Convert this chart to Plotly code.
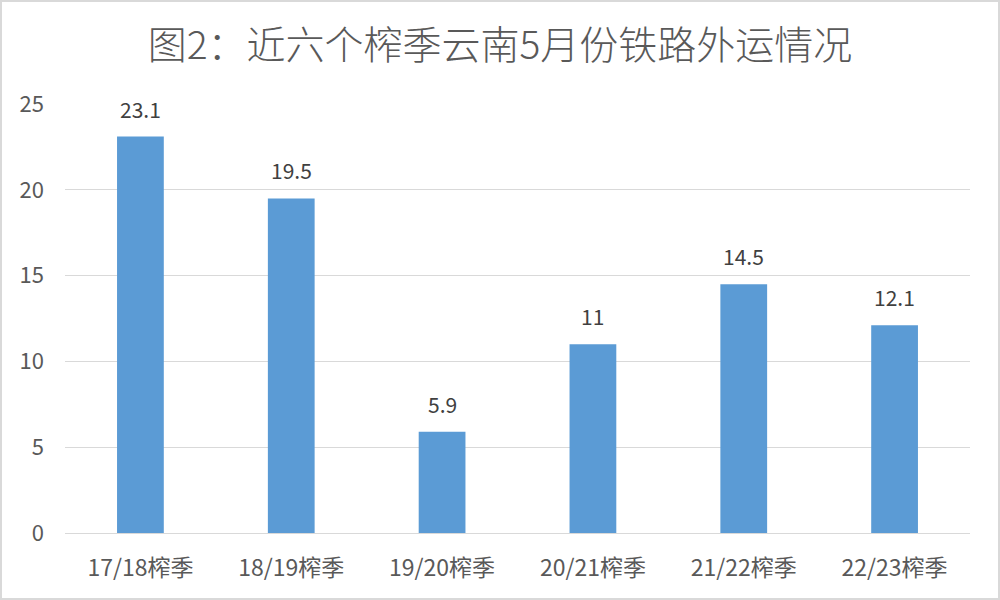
import plotly.graph_objects as go

categories = ["17/18榨季", "18/19榨季", "19/20榨季", "20/21榨季", "21/22榨季", "22/23榨季"]
values = [23.1, 19.5, 5.9, 11, 14.5, 12.1]
value_labels = ["23.1", "19.5", "5.9", "11", "14.5", "12.1"]
y_ticks = [0, 5, 10, 15, 20, 25]

FONT = "'Noto Sans CJK SC', 'Microsoft YaHei', sans-serif"
W, H = 1000, 600
ML, MR, MT, MB = 65, 30, 104, 67

fig = go.Figure()
fig.add_trace(go.Bar(
    x=categories, y=values,
    marker=dict(color="#5b9bd5", line=dict(width=0)),
    hoverinfo="x+y",
))

for c, v, t in zip(categories, values, value_labels):
    fig.add_annotation(x=c, y=v, text=t, showarrow=False, yanchor="bottom",
                       yshift=11, font=dict(size=21, color="#404040", family=FONT))

pw = W - ML - MR
ph = H - MT - MB
fig.add_shape(type="rect", xref="paper", yref="paper",
              x0=(1 - ML) / pw, x1=(W - 1 - ML) / pw,
              y0=-(MB - 1) / ph, y1=(H - 1 - MB) / ph,
              line=dict(color="#d9d9d9", width=2), fillcolor="rgba(0,0,0,0)", layer="below")

fig.update_layout(
    width=W, height=H,
    margin=dict(l=ML, r=MR, t=MT, b=MB, pad=0),
    paper_bgcolor="white", plot_bgcolor="white",
    bargap=0.69,
    showlegend=False,
    title=dict(text="图2：近六个榨季云南5月份铁路外运情况", x=0.5, xref="container", xanchor="center",
               y=1 - 45 / H, yanchor="middle",
               font=dict(size=39, color="#595959", family=FONT, weight=300)),
    font=dict(family=FONT),
)
fig.update_xaxes(
    showgrid=False, showline=True, linecolor="#d9d9d9", linewidth=1,
    tickfont=dict(size=23, color="#595959", family=FONT),
    ticks="", ticklabelstandoff=14,
)
fig.update_yaxes(
    range=[0, 25], tickvals=y_ticks, showgrid=True, gridcolor="#d9d9d9", gridwidth=1,
    zeroline=False, showline=False,
    tickfont=dict(size=22, color="#595959", family=FONT),
    ticks="", ticklabelstandoff=20,
)
fig.write_html("out.html", post_script="document.body.style.margin='0';",
               config={"displayModeBar": False})
